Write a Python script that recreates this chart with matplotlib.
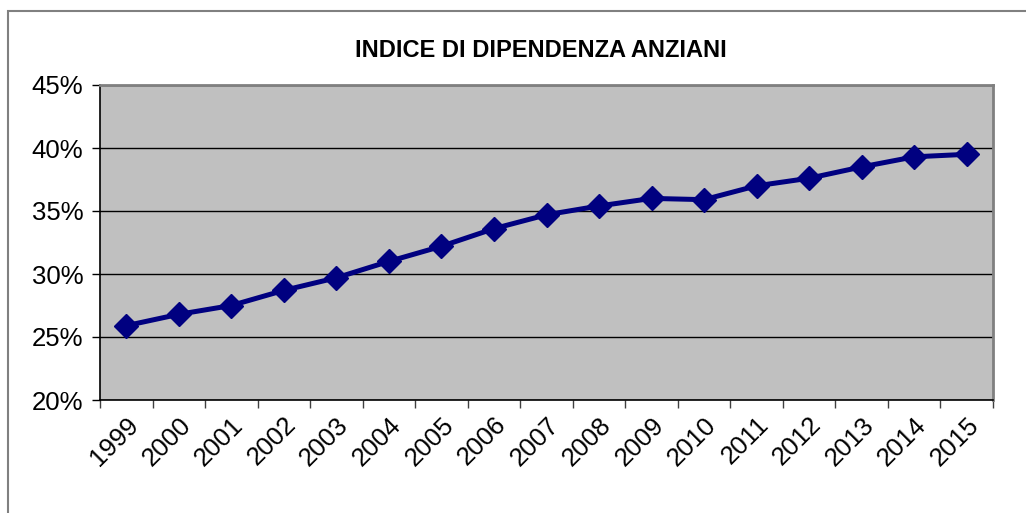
import matplotlib.pyplot as plt
from matplotlib.patches import Rectangle
from matplotlib.ticker import FuncFormatter, FixedLocator

plt.rcParams['font.family'] = ['Liberation Sans', 'DejaVu Sans']

anni = ['1999', '2000', '2001', '2002', '2003', '2004', '2005', '2006', '2007',
        '2008', '2009', '2010', '2011', '2012', '2013', '2014', '2015']
indice = [25.9, 26.8, 27.5, 28.7, 29.7, 31.0, 32.2, 33.6, 34.7,
          35.4, 36.0, 35.9, 37.0, 37.6, 38.5, 39.3, 39.5]

fig = plt.figure(figsize=(10.26, 5.13), dpi=100)
W, H = 1026, 513

# cornice esterna del grafico (tagliata a destra e in basso)
fig.patches.append(Rectangle((8 / W, -0.1), 1.2, (H - 11) / H + 0.1,
                             transform=fig.transFigure, fill=False,
                             edgecolor='#808080', linewidth=1.5))

ax = fig.add_axes([100 / W, 1 - 400 / H, 893 / W, 315 / H])
ax.set_facecolor('#C0C0C0')

x = list(range(len(anni)))
ax.plot(x, indice, color='#000080', linewidth=3.6, marker='D', markersize=12.5,
        zorder=3, clip_on=False)

ax.set_xlim(-0.5, len(anni) - 0.5)
ax.set_ylim(20, 45)
ax.set_yticks([20, 25, 30, 35, 40, 45])
ax.yaxis.set_major_formatter(FuncFormatter(lambda v, p: f'{v:.0f}%'))
ax.grid(axis='y', color='black', linewidth=1)
ax.set_axisbelow(True)

ax.xaxis.set_major_locator(FixedLocator([i - 0.5 for i in range(len(anni) + 1)]))
ax.set_xticklabels([])
ax.xaxis.set_minor_locator(FixedLocator(x))
ax.set_xticklabels(anni, minor=True, rotation=45, ha='right', va='top',
                   rotation_mode='anchor', fontsize=18.5)
ax.tick_params(axis='x', which='minor', length=0, pad=9)
ax.tick_params(axis='x', which='major', length=6, color='#404040', width=1)
ax.tick_params(axis='y', length=6, width=1, labelsize=18.5, pad=6)

for s in ['top', 'right']:
    ax.spines[s].set_color('#808080')
    ax.spines[s].set_linewidth(2)
for s in ['left', 'bottom']:
    ax.spines[s].set_color('black')
    ax.spines[s].set_linewidth(1.2)

fig.text(541 / W, 1 - 51 / H, 'INDICE DI DIPENDENZA ANZIANI', ha='center',
         va='center', fontsize=17, fontweight='bold')

fig.savefig('out.png', dpi=100)
